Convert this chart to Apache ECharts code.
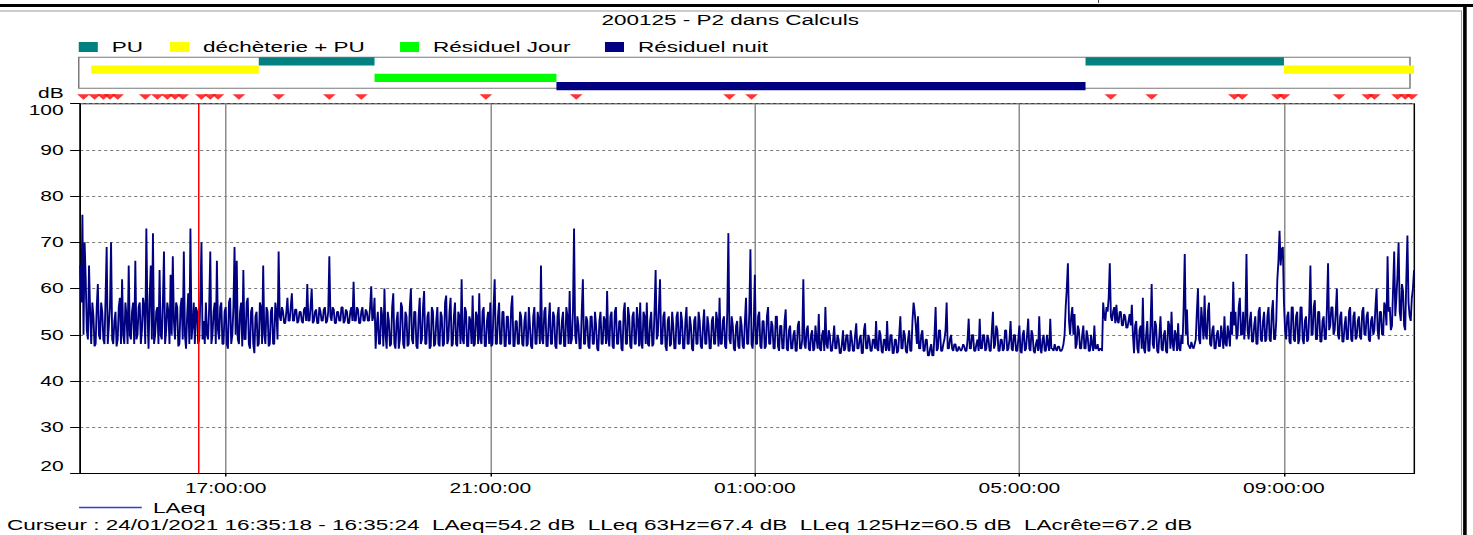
<!DOCTYPE html>
<html>
<head>
<meta charset="utf-8">
<script src="https://cdn.jsdelivr.net/npm/echarts@6/dist/echarts.min.js"></script>
<style>
  html, body { margin: 0; padding: 0; background: #fff; overflow: hidden; }
  #wrap { width: 1473px; height: 535px; overflow: hidden; }
  /* the sonometer report is drawn at 982px and widened 1.5x, like its horizontally stretched export */
  #chart { width: 982px; height: 535px; transform: scaleX(1.5); transform-origin: 0 0; }
</style>
</head>
<body>
<div id="wrap"><div id="chart"></div></div>
<script>
// ---- data -------------------------------------------------------------
const chartTitle = '200125 - P2 dans Calculs';
const footerText = 'Curseur : 24/01/2021 16:35:18 - 16:35:24  LAeq=54.2 dB  LLeq 63Hz=67.4 dB  LLeq 125Hz=60.5 dB  LAcrête=67.2 dB';

// LAeq levels (dB), one value per minute from 24/01 14:48 to 25/01 10:58
const seriesStart = '2021-01-24T14:48:00Z';
const stepMinutes = 1;
const laeq = [
  // 14:48 - 17:47
  65,57,76,50,70,62,51,49,65,55,48,57,54,47.5,48,56,61,50,49,57,
  55,49,48,58,69,48,52,56,70,49,48,53,55,47.5,49,56,58,48,62,50,
  48,57,54,48,65,50,49,55,57,48,66,49,50,56,57,48,51,58,56,48,
  73,55,47,58,65,49,72,48,50,55,56,48,64,50,49,57,68,48,51,57,
  55,48,63,50,67,53,49,57,56,47.5,48,56,58,49,68,50,47,54,59,48,
  73,49,52,57,48,56,55,48,49,58,70,49,53,48,57,50,49,56,68,48,
  50,55,57,48,66,51,49,56,57,48,48,55,56,48,47,57,58,48,50,56,
  69,50,66,49,48,55,57,47.5,64,49,49,57,58,48,47,55,56,48,46,54,
  55,47.5,48,57,56,48,65,50,48,56,55,47.5,48,55,56,48,48,57,55,49,
  // 17:48 - 19:15
  68,54,53,56,55,52.5,52.5,55,58,53,53,56,59,53,53,55.5,55.5,52.5,53,55,
  55,53,52.5,55.5,56,53,61,53,53,56,60,52.5,53,55,55.5,52.5,52.5,56,55,53,
  53,55.5,56,52.5,53,55,67,54,53,56,55.5,52.5,52.5,55,55,53,53,56,56,52.5,
  53,55.5,55,52.5,52.5,55,56,53,61.5,53,53,56,55.5,52.5,52.5,55,56,53,53,55.5,
  55,53,53,56,60.5,53,54,58,47,52,55,48,48,56,54,47.5,60,50,47,55,
  // 19:28 - 01:27
  53,47.5,48,56,59,48,47,53,55,47,49,57,56,48,47,55,54,47.5,48,56,
  60,49,48,55,55,47.5,47,54,58,48,49,56,59.5,48,48,54,55,47,47.5,56,
  55,47.5,48,53,56,48,47.5,55,54,47.5,48,57,58.5,48,49,55,58,47.5,48,54,
  57,48,47.5,55,54,48,62,49,48,56,55,47.5,47.5,54,53,48,58.5,47.5,48,55,
  54,48,59,49,48,55,56,47.5,47.5,53,55,48,57,47.5,48,56,62,48,48,54,
  57,48,48,55,55,47.5,47.5,54,54,48,48,56,58.5,47.5,47.5,53,53,48,48,55,
  54,48,47.5,53,55,47.5,48,56,52,47.5,47,54,56,48,48,55,53,48,65,49,
  48,55,56,47.5,47.5,53,57,48,48,55,54,47.5,47,54,56,48,48,53,55,47.5,
  47.5,56,54,48,59.5,48,49,55,73,50,48,54,52,47,47,55,62,48,48,54,
  53,47.5,47,54,54,48,48,55,52,47,46.5,53,55,48,48,54,53,48,59.5,49,
  47.5,54,55,47.5,47,55,56,48,48,53,53,47,46.5,55,57,48,48,56,54,47.5,
  47,54,55,48,48,56,53,47.5,57,48,47,55,54,48,57,48,47.5,53,55,47.5,
  48,55,64,49,50,56,62,48,48,54,55,47.5,46.5,53,54,47.5,48,55,52,47,
  47,54,55,48,48,55,53,47,47,53,56,48,48,54,52,47,46.5,53,54,48,
  48,55,53,47.5,47,52,55.5,48,48,54,52,47,47,53,54,48,48,55,53,47.5,
  58,48,48,53,54,47.5,47,55,72,49,48,54,52,47,46.5,52,53,47.5,47,54,
  52,47.5,47,53,58,48,48,55,68.5,48,47,52,63,48,48,54,55,47.5,47,53,
  53,47,47.5,54,56,48,48,53,52,47,47,54,54,47.5,46.5,52,52,47,47,53,
  // 01:28 - 06:15
  55.5,47,46.5,51,52,47,47,50,51,46.5,46.5,52,53,47,47,49,62,48,47,51,
  52,47,46.5,50,51,46.5,47,52,49,47,54.5,47,46.5,50,51,46.5,56,48,47,51,
  50,46.5,46.5,49,52,47,47,50,49,46,46,48,51,46.5,47,50,50,46.5,46.5,51,
  49,46.5,46.5,50,52.5,47,47,49,50,46,46,51,52.5,47,47,50,49,46.5,46.5,49,
  49,47,53,47,46.5,51,50,46.5,46,49,49,46.5,53,47,46.5,50,50,46,46,49,
  49,46,46.5,50,54,47,47,51,50,46.5,46,49,51,46.5,46.5,53,57,55,52,48,
  54,47,47,50,51,46.5,46.5,49,49,45.5,45.5,47,48,45.5,45.5,50,56,46.5,47,51,
  51,46.5,46.5,48,49,51,57,47,47,49,50,47,46.5,48,48,46.5,46.5,47.5,47,46.5,
  47,48,47.5,46.5,46.5,49,53.5,47,47,50,50,46.5,46.5,48,49,46.5,53.5,47,47,50,
  50,46.5,47,50,49,46.5,46.5,51,55,47,48,52,51,46.5,46.5,49,49,46.5,47,51,
  51,46.5,47,49,53,47,46.5,50,50,46.5,46.5,49,52,46.5,46,50,51,46.5,47,50,
  53.5,47,46.5,51,50,46.5,46,48,49,46.5,54,47,46,49,50,46.5,46.5,50,48,46.5,
  53.5,47,47,46.5,48,47,46.5,47.5,47.5,46.5,46.5,47,48,50,56,60,65.5,53,50,54,
  56,50,54.5,47,48,52,51,47,47,50,52,47,47,51,49.5,46.5,46.5,50,48,46.5,
  52,47,47,48,46.5,47,47,46.5,57,54,53,56,55,58,65.5,54,53,55,56,52.5,
  // 06:16 - 06:43
  56.5,53,52.5,55,55,52,52,54.5,54,51.5,51.5,53,54.5,52,56.5,50,
  // 06:44 - 10:58
  46,52,53,47,
  46,51,52,47,58,47,46,50,53,46.5,46.5,52,61,48,47,53,52,46.5,46,50,
  54,47,46.5,50,51,46.5,46,53,52,47,55,48,46.5,51,50,46.5,52.5,47,46.5,50,
  48,56,67.5,50,55.5,48,47.5,47,48.5,47.5,47,48,49,55,60,49,48,56,53,49,
  58.5,50,49,55,57,48,47.5,51,52,47,47,50,51,47.5,47.5,52,50,47,54,48,
  47.5,52,50,47.5,55,50,61.5,52,55,49,50,56,58,50,50,55,49,53,67.5,51,
  49,53,55,48.5,48.5,52,54,48,48,55,56,49,48.5,53,55,48.5,49,54,56,49,
  48.5,55,57.5,49,49,53,62,66,72.5,65,68.5,69,57,51,49,54,55,48.5,48,56,
  56,49,48.5,54,55,48,49,56,56,49,48,53,54,48.5,49,55,65,50,50,56,
  57.5,49,49,55,55,48.5,48.5,53,54,49,49,56,65.5,51,52,56,56,50,51,55,
  60,50,49,54,55,48.5,48.5,52,54,49,49,55,56,49,48.5,54,55,49,49.5,53,
  54,49.5,49,55,56,50,50,54,55,49,48.5,53,54,50,51,56,60,51,49,55,
  55,50,50,57,56,52,67,55,56,51,52,60,68,54,58,63,70,55,53,61,
  59.5,52,51,62,71.5,57,54,53,58,60,64
];

// time axis extent and labelled ticks
const axisStart = '2021-01-24T14:48:00Z';
const axisEnd = '2021-01-25T10:58:15Z';
const tickTimes = [
  '2021-01-24T17:00:00Z', '2021-01-24T21:00:00Z', '2021-01-25T01:00:00Z',
  '2021-01-25T05:00:00Z', '2021-01-25T09:00:00Z'
];
const levelMin = 20, levelMax = 100, levelStep = 10;

// measurement periods
const periodNames = ['PU', 'déchèterie + PU', 'Résiduel Jour', 'Résiduel nuit'];
const periodColors = ['#008080', '#ffff00', '#00ff00', '#000080'];
const periods = [
  ['déchèterie + PU', '2021-01-24T14:58:00Z', '2021-01-24T17:30:00Z'],
  ['PU',              '2021-01-24T17:30:00Z', '2021-01-24T19:15:00Z'],
  ['Résiduel Jour',   '2021-01-24T19:15:00Z', '2021-01-24T22:00:00Z'],
  ['Résiduel nuit',   '2021-01-24T22:00:00Z', '2021-01-25T06:00:00Z'],
  ['PU',              '2021-01-25T06:00:00Z', '2021-01-25T09:00:00Z'],
  ['déchèterie + PU', '2021-01-25T09:00:00Z', '2021-01-25T10:58:00Z']
];

// event markers above the plot
const eventTimes = [
  '2021-01-24T14:51:00Z', '2021-01-24T15:01:00Z', '2021-01-24T15:09:00Z', '2021-01-24T15:15:00Z',
  '2021-01-24T15:22:00Z', '2021-01-24T15:47:00Z', '2021-01-24T15:58:00Z', '2021-01-24T16:07:00Z',
  '2021-01-24T16:14:00Z', '2021-01-24T16:21:00Z', '2021-01-24T16:38:00Z', '2021-01-24T16:46:00Z',
  '2021-01-24T16:53:00Z', '2021-01-24T17:12:00Z', '2021-01-24T17:48:00Z', '2021-01-24T18:34:00Z',
  '2021-01-24T19:03:00Z', '2021-01-24T20:56:00Z', '2021-01-24T22:18:00Z', '2021-01-25T00:37:00Z',
  '2021-01-25T00:57:00Z', '2021-01-25T06:23:00Z', '2021-01-25T07:00:00Z', '2021-01-25T08:15:00Z',
  '2021-01-25T08:22:00Z', '2021-01-25T08:54:00Z', '2021-01-25T09:00:00Z', '2021-01-25T09:50:00Z',
  '2021-01-25T10:16:00Z', '2021-01-25T10:22:00Z', '2021-01-25T10:43:00Z', '2021-01-25T10:50:00Z',
  '2021-01-25T10:56:00Z'
];
const cursorTime = '2021-01-24T16:35:21Z';

// ---- chart ------------------------------------------------------------
const FONT = "'Liberation Sans', Arial, sans-serif";
const ms = s => Date.parse(s);
const pad = n => String(n).padStart(2, '0');
const hms = v => { const d = new Date(v); return pad(d.getUTCHours()) + ':' + pad(d.getUTCMinutes()) + ':' + pad(d.getUTCSeconds()); };

const t0 = ms(seriesStart);
const laeqData = laeq.map((v, i) => [t0 + i * stepMinutes * 60000, v]);
const xMin = ms(axisStart), xMax = ms(axisEnd);
const ticks = tickTimes.map(ms);

const gridLeft = 53.47, gridRight = 39.13;

function renderPeriod(params, api) {
  const row = api.value(2);
  const a = api.coord([api.value(0), row]);
  const b = api.coord([api.value(1), row]);
  const h = api.size([0, 1])[1];
  return {
    type: 'rect',
    shape: { x: a[0], y: a[1] - h / 2, width: b[0] - a[0], height: h },
    style: { fill: api.visual('color') }
  };
}

const periodSeries = periodNames.map((name, k) => ({
  name,
  type: 'custom',
  xAxisIndex: 1,
  yAxisIndex: 1,
  renderItem: renderPeriod,
  itemStyle: { color: periodColors[k] },
  encode: { x: [0, 1], y: 2 },
  silent: true,
  data: periods.filter(p => p[0] === name).map(p => [ms(p[1]), ms(p[2]), periodNames.indexOf(name)])
}));

const legendLeft = [52.5, 113.3, 266.7, 403.3];

const option = {
  animation: false,
  backgroundColor: '#fff',
  textStyle: { fontFamily: FONT },
  title: {
    text: chartTitle,
    left: 486.9,
    textAlign: 'center',
    top: 12.5,
    padding: 0,
    textStyle: { fontFamily: FONT, fontSize: 15, fontWeight: 'normal', color: '#000' }
  },
  legend: [
    ...periodNames.map((name, k) => ({
      data: [name],
      left: legendLeft[k],
      top: 39.5,
      padding: 0,
      icon: 'rect',
      itemWidth: 12.7,
      itemHeight: 10,
      selectedMode: false,
      textStyle: { fontFamily: FONT, fontSize: 15, color: '#000', padding: [0, 0, 0, 4.3] }
    })),
    {
      data: ['LAeq'],
      left: 52.7,
      top: 500,
      padding: 0,
      icon: 'rect',
      itemWidth: 41.8,
      itemHeight: 1.5,
      itemStyle: { color: '#3a3ad2', borderWidth: 0 },
      lineStyle: { color: '#3a3ad2', width: 1.2 },
      selectedMode: false,
      textStyle: { fontFamily: FONT, fontSize: 15, color: '#000', padding: [0, 0, 0, 2.5] }
    }
  ],
  grid: [
    { left: gridLeft, right: gridRight, top: 103.7, height: 369.8, show: true, borderColor: '#000', borderWidth: 1, containLabel: false },
    { left: gridLeft, right: gridRight, top: 57.3, height: 33, containLabel: false }
  ],
  xAxis: [
    {
      type: 'value', gridIndex: 0, min: xMin, max: xMax,
      axisLine: { show: true, lineStyle: { color: '#000', width: 1 } },
      axisTick: { show: true, customValues: ticks, length: 3, lineStyle: { color: '#000' } },
      axisLabel: { customValues: ticks, formatter: hms, fontFamily: FONT, fontSize: 14, color: '#000', margin: 8 },
      splitLine: { show: true, lineStyle: { color: '#8c8c8c', width: 1, type: 'solid' } }
    },
    { type: 'value', gridIndex: 1, min: xMin, max: xMax, show: false }
  ],
  yAxis: [
    {
      type: 'value', gridIndex: 0, min: levelMin, max: levelMax, interval: levelStep,
      name: 'dB', nameLocation: 'end', nameGap: 10,
      nameTextStyle: { fontFamily: FONT, fontSize: 14, color: '#000', align: 'right', verticalAlign: 'middle', padding: [0, 11, 0, 0] },
      axisLine: { show: true, lineStyle: { color: '#000', width: 1 } },
      axisTick: { show: true, length: 6.7, lineStyle: { color: '#000' } },
      axisLabel: { fontFamily: FONT, fontSize: 14, color: '#000', margin: 11, verticalAlignMinLabel: 'bottom', verticalAlignMaxLabel: 'top' },
      splitLine: { show: true, lineStyle: { color: '#7a7a7a', width: 1, type: [2, 2] } }
    },
    { type: 'category', gridIndex: 1, data: periodNames, inverse: true, show: false }
  ],
  series: [
    ...periodSeries,
    {
      name: 'LAeq',
      type: 'line',
      xAxisIndex: 0, yAxisIndex: 0,
      data: laeqData,
      symbol: 'none',
      showSymbol: false,
      lineStyle: { color: '#000080', width: 1.25 },
      itemStyle: { color: '#000080' },
      silent: true,
      z: 3,
      markLine: {
        silent: true,
        symbol: ['none', 'none'],
        label: { show: false },
        lineStyle: { color: '#ff0000', width: 1, type: 'solid' },
        data: [{ xAxis: ms(cursorTime) }]
      }
    },
    {
      name: 'événements',
      type: 'scatter',
      xAxisIndex: 0, yAxisIndex: 0,
      clip: false,
      silent: true,
      symbol: 'triangle',
      symbolRotate: 180,
      symbolSize: [8.5, 5.5],
      itemStyle: { color: '#ff0000' },
      data: eventTimes.map(t => [ms(t), 101.45])
    }
  ],
  graphic: [
    { type: 'rect', shape: { x: 0, y: 4, width: 982, height: 3 }, style: { fill: '#000' }, silent: true },
    { type: 'rect', shape: { x: 0, y: 10.5, width: 974.4, height: 1 }, style: { fill: '#9a9a9a' }, silent: true },
    { type: 'rect', shape: { x: 974, y: 10.5, width: 0.7, height: 530 }, style: { fill: '#9a9a9a' }, silent: true },
    { type: 'rect', shape: { x: 975.4, y: 4, width: 2.4, height: 531 }, style: { fill: '#000' }, silent: true },
    { type: 'rect', shape: { x: 732, y: 0, width: 0.7, height: 3 }, style: { fill: '#444' }, silent: true },
    { type: 'rect', shape: { x: 52.5, y: 57.3, width: 887.5, height: 31 }, style: { fill: 'none', stroke: '#7a7a7a', lineWidth: 1 }, silent: true, z: -1 },
    {
      type: 'text', left: 4.7, top: 517.5, silent: true,
      style: { text: footerText, font: "15px 'Liberation Sans', Arial, sans-serif", fill: '#000' }
    }
  ]
};

const chart = echarts.init(document.getElementById('chart'), null, { renderer: 'svg' });
chart.setOption(option);
</script>
</body>
</html>
